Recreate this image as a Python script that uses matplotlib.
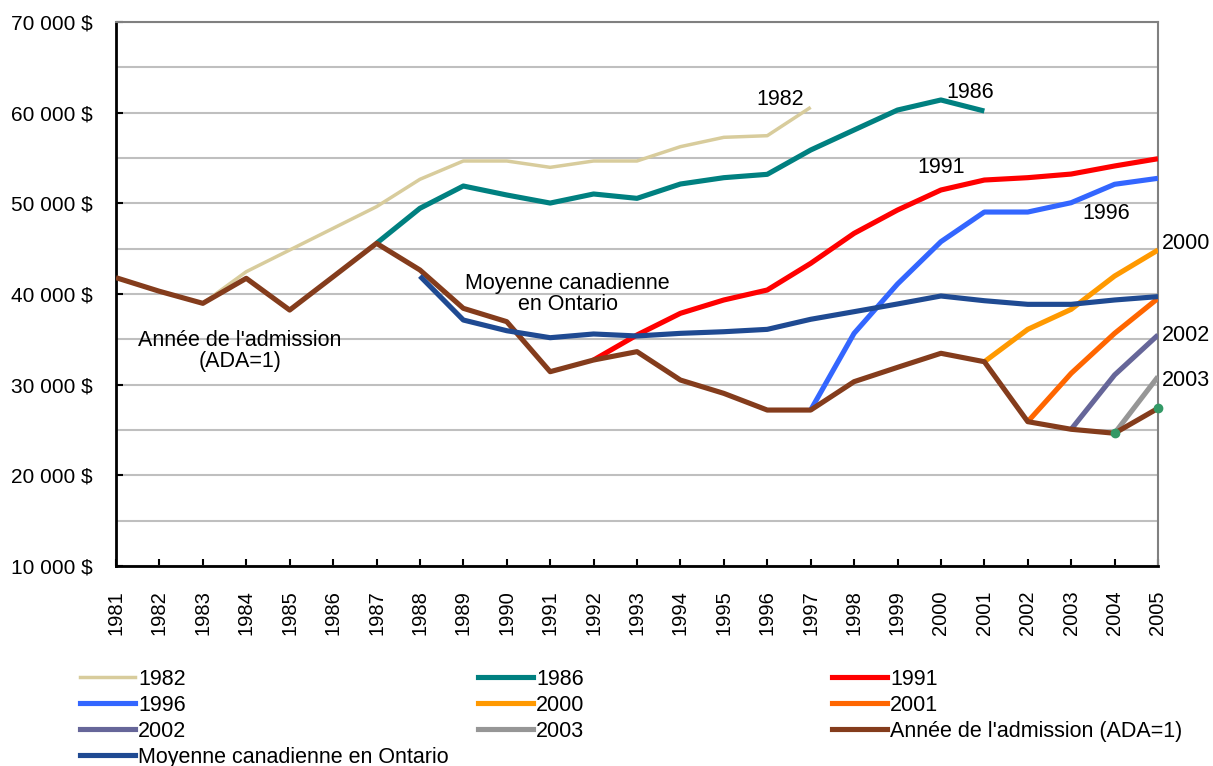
import matplotlib
matplotlib.use("Agg")
import matplotlib.pyplot as plt
from matplotlib.lines import Line2D
from matplotlib.ticker import FuncFormatter, MultipleLocator

plt.rcParams['font.family'] = ['Liberation Sans', 'DejaVu Sans']

# Années (axe des x)
years = list(range(1981, 2006))

# Cohortes : (année de départ, valeurs)
c1982 = [38970, 42460, 44850, 47240, 49630, 52650, 54670, 54670, 53970, 54670,
         54670, 56250, 57280, 57460, 60590]                      # 1983-1997
c1986 = [45590, 49450, 51910, 50920, 50030, 51030, 50550, 52130, 52830, 53200,
         55880, 58090, 60290, 61400, 60180]                      # 1987-2001
c1991 = [32720, 35480, 37870, 39340, 40440, 43380, 46690, 49260, 51470, 52570,
         52830, 53230, 54120, 54920]                              # 1992-2005
c1996 = [27200, 35660, 41100, 45770, 49040, 49040, 50070, 52100, 52760]  # 1997-2005
c2000 = [32530, 36100, 38310, 41980, 44850]                       # 2001-2005
c2001 = [25920, 31250, 35660, 39520]                              # 2002-2005
c2002 = [25080, 31070, 35480]                                     # 2003-2005
c2003 = [24640, 30880]                                            # 2004-2005
ada = [41800, 40300, 38970, 41730, 38230, 41900, 45590, 42650, 38420, 36950,
       31430, 32720, 33640, 30510, 29040, 27200, 27200, 30330, 31910, 33460,
       32530, 25920, 25080, 24640, 27390]                         # 1981-2005
moyenne = [41980, 37130, 35950, 35180, 35590, 35370, 35660, 35840, 36100, 37210,
           38050, 38900, 39780, 39260, 38860, 38860, 39340, 39710]  # 1988-2005

series = [
    ("1982", 1983, c1982, "#D8CC9C", 2.5),
    ("1986", 1987, c1986, "#008080", 3.7),
    ("1991", 1992, c1991, "#FF0000", 3.7),
    ("1996", 1997, c1996, "#3366FF", 3.7),
    ("2000", 2001, c2000, "#FF9900", 3.7),
    ("2001", 2002, c2001, "#FF6600", 3.7),
    ("2002", 2003, c2002, "#666699", 3.7),
    ("2003", 2004, c2003, "#969696", 3.7),
    ("Année de l'admission (ADA=1)", 1981, ada, "#843C1C", 3.7),
    ("Moyenne canadienne en Ontario", 1988, moyenne, "#1F4A92", 3.7),
]

fig = plt.figure(figsize=(12.13, 7.66), dpi=100)
ax = fig.add_axes([116 / 1213, 1 - 566 / 766, (1158 - 116) / 1213, (566 - 22) / 766])

handles = {}
for name, start, vals, color, lw in series:
    xs = list(range(start, start + len(vals)))
    line, = ax.plot(xs, vals, color=color, lw=lw, solid_capstyle='butt', zorder=3)
    handles[name] = line

# points verts sur la courbe ADA
ax.plot(years[-2:], ada[-2:], ls='none', marker='o', ms=6, color="#339966", zorder=4,
        clip_on=False)

ax.set_xlim(1981, 2005)
ax.set_ylim(10000, 70000)
ax.set_xticks(years)
ax.set_xticklabels([str(y) for y in years], rotation=90, fontsize=14.5)
ax.yaxis.set_major_locator(MultipleLocator(10000))
ax.yaxis.set_minor_locator(MultipleLocator(5000))
ax.yaxis.set_major_formatter(FuncFormatter(lambda v, p: f"{int(v):,}".replace(",", " ") + " $"))
ax.tick_params(axis='y', which='major', direction='in', length=5, width=1.5, pad=17, labelsize=15)
ax.tick_params(axis='y', which='minor', length=0)
ax.tick_params(axis='x', direction='in', length=5, width=1.5, pad=17.5)
ax.grid(True, axis='y', which='both', color='#BFBFBF', lw=1.5, zorder=0)
ax.set_axisbelow(True)

for s in ['left', 'bottom']:
    ax.spines[s].set_color('black')
    ax.spines[s].set_linewidth(2)
for s in ['top', 'right']:
    ax.spines[s].set_color('#808080')
    ax.spines[s].set_linewidth(1.5)

# étiquettes dans le graphique
fs = 15.5
ax.text(1996.3, 61400, "1982", fontsize=fs, ha='center', va='center')
ax.text(2000.67, 62170, "1986", fontsize=fs, ha='center', va='center')
ax.text(2000.0, 53900, "1991", fontsize=fs, ha='center', va='center')
ax.text(2003.8, 48930, "1996", fontsize=fs, ha='center', va='center')
ax.text(2005.1, 45620, "2000", fontsize=fs, ha='left', va='center')
ax.text(2005.1, 35370, "2002", fontsize=fs, ha='left', va='center')
ax.text(2005.1, 30510, "2003", fontsize=fs, ha='left', va='center')
ax.text(1991.4, 40000, "Moyenne canadienne\nen Ontario", fontsize=fs, ha='center', va='center',
        linespacing=1.0)
ax.text(1983.86, 33710, "Année de l'admission\n(ADA=1)", fontsize=fs, ha='center', va='center',
        linespacing=1.0)

# légende en trois colonnes
columns = [
    (["1982", "1996", "2002", "Moyenne canadienne en Ontario"], 80),
    (["1986", "2000", "2003"], 478),
    (["1991", "2001", "Année de l'admission (ADA=1)"], 832),
]
for names, xpix in columns:
    hs = [Line2D([], [], color=handles[n].get_color(), lw=handles[n].get_linewidth()) for n in names]
    fig.legend(hs, names, loc='upper left', bbox_to_anchor=(xpix / 1213, 1 - 669 / 766),
               frameon=False, fontsize=fs, handlelength=2.55, handletextpad=0.15,
               labelspacing=0.23, borderpad=0, borderaxespad=0)

fig.savefig("out.png", dpi=100)
